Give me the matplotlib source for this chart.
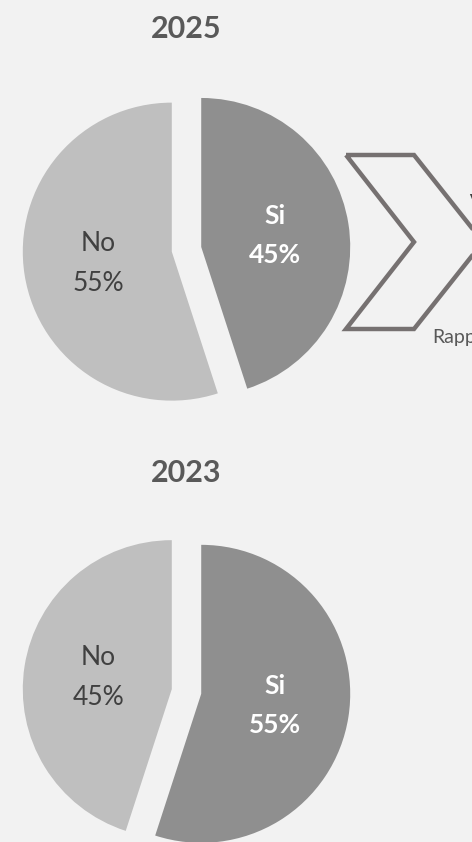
import matplotlib
matplotlib.use("Agg")
import matplotlib.pyplot as plt
from matplotlib.patches import Polygon

plt.rcParams['font.family'] = ['Lato', 'DejaVu Sans']

categories = ["Si", "No"]
years = ["2025", "2023"]
values_2025 = [45, 55]
values_2023 = [55, 45]

bg = '#f2f2f2'
colors = ['#8f8f8f', '#bfbfbf']
label_colors = ['white', '#404040']
label_weights = ['bold', 'normal']

W, H = 472, 842
R = 149.0  # pie radius in pixels
fig = plt.figure(figsize=(W / 100, H / 100), dpi=100, facecolor=bg)


def pie_axes(top, bottom, cx, cy):
    # axes spanning pixel rows top..bottom, one data unit = R pixels
    ax = fig.add_axes([0, 1 - bottom / H, 1, (bottom - top) / H])
    ax.set_facecolor(bg)
    return ax, ((0 - cx) / R, (W - cx) / R), (-(bottom - cy) / R, (cy - top) / R)


def draw_pie(ax, xl, yl, values):
    labels = [f"{c}\n{v}%" for c, v in zip(categories, values)]
    wedges, texts = ax.pie(values, labels=labels, colors=colors,
                           startangle=90, counterclock=False,
                           explode=[0.1, 0.1], labeldistance=0.5,
                           wedgeprops=dict(linewidth=0))
    for t, c, w in zip(texts, label_colors, label_weights):
        t.set_ha('center')
        t.set_va('center')
        t.set_color(c)
        t.set_fontweight(w)
        t.set_fontsize(19)
        t.set_linespacing(1.75)
    ax.set_aspect('auto')
    ax.set_xlim(*xl)
    ax.set_ylim(*yl)
    ax.axis('off')


ax1, xl1, yl1 = pie_axes(0, 421, 186.5, 249.3)
draw_pie(ax1, xl1, yl1, values_2025)
ax2, xl2, yl2 = pie_axes(421, 842, 186.5, 691.5)
draw_pie(ax2, xl2, yl2, values_2023)

# titles
fig.text(186 / W, 1 - 29 / H, years[0], ha='center', va='center',
         fontsize=22, fontweight='bold', color='#595959')
fig.text(186 / W, 1 - 472.5 / H, years[1], ha='center', va='center',
         fontsize=22, fontweight='bold', color='#595959')

# chevron arrow and side text (cut at the right edge, as in the original)
ov = fig.add_axes([0, 0, 1, 1])
ov.set_xlim(0, W)
ov.set_ylim(H, 0)
ov.axis('off')
chev = Polygon([(346, 155), (414, 155), (483, 242), (414, 329),
                (346, 329), (414, 242)], closed=True, fill=False,
               edgecolor='#767171', linewidth=3.2, joinstyle='miter')
ov.add_patch(chev)
ov.text(469, 203, "Variazione", ha='left', va='center', fontsize=14,
        fontweight='bold', color='#404040')
ov.text(432, 338, "Rapporto", ha='left', va='center', fontsize=14,
        color='#595959')

fig.savefig('out.png', dpi=100, facecolor=bg)
